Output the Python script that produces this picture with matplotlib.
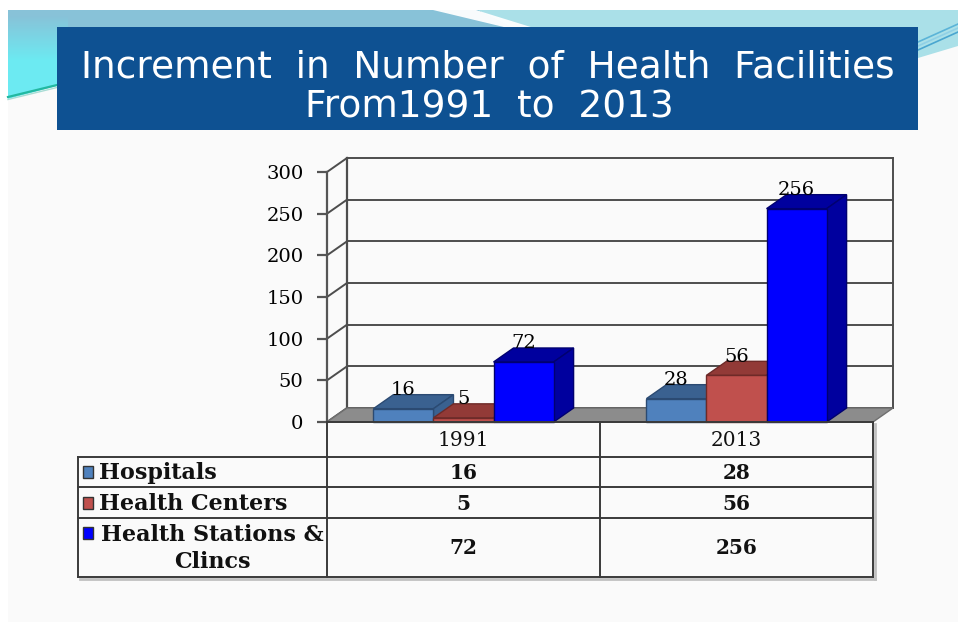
import numpy as np
import matplotlib
matplotlib.use("Agg")
import matplotlib.pyplot as plt
from matplotlib.patches import Polygon, Rectangle
from matplotlib.lines import Line2D

# ---------------- data ----------------
years = ["1991", "2013"]
series_names = ["Hospitals", "Health Centers", "Health Stations &\nClincs"]
hospitals = [16, 28]
health_centers = [5, 56]
health_stations = [72, 256]
y_ticks = [0, 50, 100, 150, 200, 250, 300]
title_lines = ["Increment  in  Number  of  Health  Facilities", "From1991  to  2013"]

series_values = [hospitals, health_centers, health_stations]
front_colors = ["#4f81bd", "#c0504d", "#0000ff"]
dark_colors = ["#3a6190", "#923a37", "#00009e"]
edge_colors = ["#2b4a72", "#6e2a28", "#000070"]

W, H = 958, 622
fig = plt.figure(figsize=(W / 100, H / 100), dpi=100)
fig.patch.set_facecolor("white")

# ---------------- background / decoration (pixel coords) ----------------
bg = fig.add_axes([0, 0, 1, 1], zorder=0)
bg.set_xlim(0, W)
bg.set_ylim(H, 0)
bg.axis("off")
bg.add_patch(Rectangle((8, 10), W - 8, H - 10, facecolor="#fafafa", edgecolor="none"))

gh, gw = 100, 950
yy, xx = np.mgrid[0:gh, 0:gw]
c_tl = np.array([0x88, 0xc2, 0xd8]) / 255
c_tr = np.array([0xaa, 0xe0, 0xe8]) / 255
c_bl = np.array([0x6c, 0xea, 0xf2]) / 255
fx = (xx > 470 + yy * 2).astype(float)[..., None]
fy = np.clip((yy - 5) / 45, 0, 1)[..., None]
fl = (xx < 60).astype(float)[..., None]
img = c_tl * (1 - fx) + c_tr * fx
img = img * (1 - fy * fl) + c_bl * fy * fl
img = np.clip(img, 0, 1)
im = bg.imshow(img, extent=(8, 958, 110, 10), origin="upper", zorder=1, aspect="auto")
clip = Polygon([(8, 10), (958, 10), (958, 46), (918, 58), (918, 30), (57, 30),
                (57, 86), (8, 99)], closed=True, transform=bg.transData)
im.set_clip_path(clip)
# white swoosh in the top band
bg.add_patch(Polygon([(433, 10), (476, 10), (534, 28), (508, 28)],
                     closed=True, facecolor="white", edgecolor="none", alpha=0.95, zorder=2))
bg.add_line(Line2D([8, 57], [97, 85], color="#22b8a0", lw=1.6, zorder=2))
bg.add_line(Line2D([8, 57], [99.5, 87.5], color="#a8dcd4", lw=1.0, zorder=2))
for off, col in [(0, "#5bb4d8"), (4, "#8fd0e6"), (8, "#4aa6d0")]:
    bg.add_line(Line2D([918, 958], [42 + off, 24 + off], color=col, lw=1.2, zorder=2))

# title box
bg.add_patch(Rectangle((57, 27), 918 - 57, 130 - 27, facecolor="#0e5192",
                       edgecolor="none", zorder=3))
bg.text(488, 68, title_lines[0], color="white", fontsize=27, ha="center",
        va="center", family="DejaVu Sans", zorder=4)
bg.text(489, 108, title_lines[1], color="white", fontsize=27, ha="center",
        va="center", family="DejaVu Sans", zorder=4)

# ---------------- chart axes ----------------
x0_px, x1_px, y0_px, y1_px = 327, 873, 422, 172
ax = fig.add_axes([x0_px / W, 1 - y0_px / H, (x1_px - x0_px) / W, (y0_px - y1_px) / H],
                  zorder=2)
ax.set_xlim(0, len(years))
ax.set_ylim(0, 300)
ax.patch.set_alpha(0)
for s in ["top", "right", "bottom"]:
    ax.spines[s].set_visible(False)
ax.spines["left"].set_color("#555555")
ax.spines["left"].set_linewidth(1.6)
ax.set_xticks([])
ax.set_yticks(y_ticks)
ax.set_yticklabels([str(v) for v in y_ticks], family="DejaVu Serif", fontsize=14,
                   color="#000000")
ax.tick_params(axis="y", length=7, width=1.6, color="#555555", pad=10)

dx = 20 * (len(years)) / (x1_px - x0_px)
dy = 14 * 300 / (y0_px - y1_px)

gcol = "#4d4d4d"
for v in y_ticks:
    ax.plot([dx, len(years) + dx], [v + dy, v + dy], color=gcol, lw=1.4, clip_on=False, zorder=1)
    ax.plot([0, dx], [v, v + dy], color=gcol, lw=1.4, clip_on=False, zorder=1)
ax.plot([dx, dx], [dy, 300 + dy], color=gcol, lw=1.6, clip_on=False, zorder=1)
ax.plot([len(years) + dx] * 2, [dy, 300 + dy], color=gcol, lw=1.4, clip_on=False, zorder=1)
ax.add_patch(Polygon([(0, 0), (len(years), 0), (len(years) + dx, dy), (dx, dy)],
                     closed=True, facecolor="#8c8c8c", edgecolor="#6f6f6f", lw=1,
                     clip_on=False, zorder=2))

bw = 0.22
n = len(series_values)
for gi in range(len(years)):
    for si in range(n):
        h = series_values[si][gi]
        xc = gi + 0.5 + (si - (n - 1) / 2) * bw
        xl, xr = xc - bw / 2, xc + bw / 2
        z = 3 + gi * 10 + si
        ax.add_patch(Polygon([(xl, h), (xr, h), (xr + dx, h + dy), (xl + dx, h + dy)],
                             closed=True, facecolor=dark_colors[si], edgecolor=edge_colors[si],
                             lw=1, clip_on=False, zorder=z))
        ax.add_patch(Polygon([(xr, 0), (xr + dx, dy), (xr + dx, h + dy), (xr, h)],
                             closed=True, facecolor=dark_colors[si], edgecolor=edge_colors[si],
                             lw=1, clip_on=False, zorder=z))
        ax.bar(xc, h, width=bw, color=front_colors[si], edgecolor=edge_colors[si],
               lw=1, zorder=z, clip_on=False)
        ax.annotate(str(h), xy=(xc, h + dy), xytext=(0, -3),
                    textcoords="offset points", ha="center", va="bottom",
                    family="DejaVu Serif", fontsize=14, color="#000000",
                    zorder=50, annotation_clip=False)

# ---------------- data table (pixel coords) ----------------
tl = fig.add_axes([0, 0, 1, 1], zorder=3)
tl.set_xlim(0, W)
tl.set_ylim(H, 0)
tl.axis("off")
col_x = [327, 600, 873]
row_y = [422, 457, 487, 518, 577]
left_x = 78
lc = "#3a3a3a"
for (xa, xb, ya, yb) in [(left_x + 2, 875, 579, 579), (875, 875, 424, 579)]:
    tl.add_line(Line2D([xa, xb], [ya, yb], color="#c0c0c0", lw=2))
for y in row_y[1:]:
    tl.add_line(Line2D([left_x, col_x[-1]], [y, y], color=lc, lw=1.4))
tl.add_line(Line2D([col_x[0], col_x[-1]], [row_y[0], row_y[0]], color=lc, lw=1.4))
for x in col_x:
    tl.add_line(Line2D([x, x], [row_y[0], row_y[-1]], color=lc, lw=1.4))
tl.add_line(Line2D([left_x, left_x], [row_y[1], row_y[-1]], color=lc, lw=1.4))

tf = dict(family="DejaVu Serif", fontsize=14.5, color="#111111", ha="center", va="center")
for ci, yr in enumerate(years):
    tl.text((col_x[ci] + col_x[ci + 1]) / 2, (row_y[0] + row_y[1]) / 2 + 1, yr, **tf)
for si in range(n):
    ymid = (row_y[si + 1] + row_y[si + 2]) / 2
    for ci in range(len(years)):
        tl.text((col_x[ci] + col_x[ci + 1]) / 2, ymid + 1, str(series_values[si][ci]),
                fontweight="bold", **tf)
    key_y = ymid if "\n" not in series_names[si] else row_y[si + 1] + 15
    tl.add_patch(Rectangle((83, key_y - 6), 10, 12, facecolor=front_colors[si],
                           edgecolor="#333333", lw=1))
    if "\n" in series_names[si]:
        tl.text(212, ymid + 1, series_names[si], family="DejaVu Serif", fontsize=16,
                fontweight="bold", color="#111111", ha="center", va="center",
                multialignment="center", linespacing=1.3)
    else:
        tl.text(99, ymid + 1, series_names[si], family="DejaVu Serif", fontsize=16,
                fontweight="bold", color="#111111", ha="left", va="center")

fig.savefig("out.png", dpi=100, facecolor=fig.get_facecolor())
